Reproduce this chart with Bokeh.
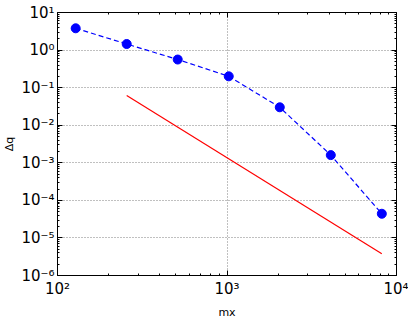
import numpy as np
from bokeh.plotting import figure
from bokeh.models import LogAxis, CustomJSTickFormatter, FixedTicker, Range1d
from bokeh.embed import file_html
from bokeh.resources import INLINE

# data
mx = [128, 256, 512, 1024, 2048, 4096, 8192]
dq = [3.8, 1.45, 0.56, 0.20, 0.030, 0.0016, 4.4e-5]
ref_x = [256, 8192]
ref_y = [0.062, 3.8e-6]
x_ticks = [1e2, 1e3, 1e4]
y_ticks = [1e-6, 1e-5, 1e-4, 1e-3, 1e-2, 1e-1, 1e0, 1e1]

def minors(ticks):
    out = []
    for t in ticks[:-1]:
        out += [t * k for k in range(2, 10)]
    return out

FONT = "DejaVu Sans"

p = figure(x_axis_type="log", y_axis_type="log",
           x_range=Range1d(1e2, 1e4), y_range=Range1d(1e-6, 1e1),
           frame_width=339, frame_height=263,
           min_border_left=44, min_border_right=12,
           min_border_top=12, min_border_bottom=30,
           output_backend="svg", toolbar_location=None)
p.background_fill_color = "white"
p.border_fill_color = "white"
p.outline_line_color = "black"
p.outline_line_width = 1

sup_js = """
const sup = {"-":"\u207b","0":"\u2070","1":"\u00b9","2":"\u00b2","3":"\u00b3","4":"\u2074","5":"\u2075","6":"\u2076","7":"\u2077","8":"\u2078","9":"\u2079"};
const e = Math.round(Math.log10(tick)).toString();
return "10" + e.split("").map(c => sup[c]).join("");
"""
fmt = CustomJSTickFormatter(code=sup_js)
empty = CustomJSTickFormatter(code="return '';")

def style(ax, labels=True):
    ax.major_tick_in = 5
    ax.major_tick_out = 0
    ax.minor_tick_in = 2
    ax.minor_tick_out = 0
    ax.axis_line_color = "black"
    ax.major_tick_line_color = "black"
    ax.minor_tick_line_color = "black"
    ax.major_label_text_font = FONT
    ax.major_label_text_font_size = "15px"
    ax.major_label_text_color = "black"
    ax.axis_label_text_font = FONT
    ax.axis_label_text_font_size = "11px"
    ax.axis_label_text_font_style = "normal"
    ax.axis_label_text_color = "black"
    if not labels:
        ax.formatter = empty
        ax.major_label_standoff = 0

xa = p.xaxis[0]
ya = p.yaxis[0]
xa.ticker = FixedTicker(ticks=x_ticks, minor_ticks=minors(x_ticks))
ya.ticker = FixedTicker(ticks=y_ticks, minor_ticks=minors(y_ticks))
xa.formatter = fmt
ya.formatter = fmt
style(xa)
style(ya)
xa.axis_label = "mx"
ya.axis_label = "Δq"
xa.major_label_standoff = 4
ya.major_label_standoff = 3
xa.axis_label_standoff = 5
ya.axis_label_standoff = 2

top = LogAxis(ticker=FixedTicker(ticks=x_ticks, minor_ticks=minors(x_ticks)))
right = LogAxis(ticker=FixedTicker(ticks=y_ticks, minor_ticks=minors(y_ticks)))
style(top, False)
style(right, False)
p.add_layout(top, "above")
p.add_layout(right, "right")

gx = p.xgrid[0]
gy = p.ygrid[0]
gx.ticker = FixedTicker(ticks=x_ticks)
gy.ticker = FixedTicker(ticks=y_ticks)
for g in (gx, gy):
    g.grid_line_color = "#808080"
    g.grid_line_dash = "1 2"
    g.grid_line_width = 1
    g.minor_grid_line_color = None

p.line(mx, dq, line_color="blue", line_dash="5 3", line_width=1.2)
p.scatter(mx, dq, size=9, fill_color="blue", line_color="blue")
p.line(ref_x, ref_y, line_color="red", line_width=1.2)

open("out.html", "w").write(file_html(p, INLINE))
